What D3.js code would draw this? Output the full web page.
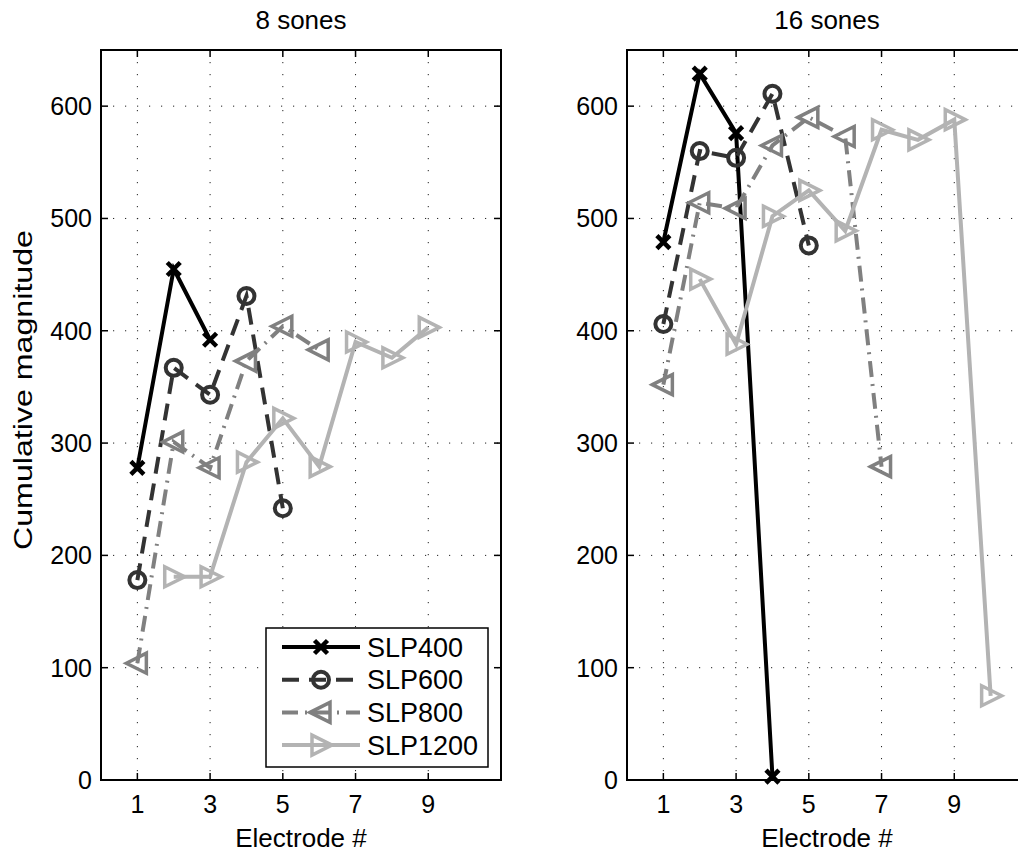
<!DOCTYPE html>
<html>
<head>
<meta charset="utf-8">
<script src="https://cdn.jsdelivr.net/npm/d3@7"></script>
<style>
    body { margin: 0; background: #fff; }
    text { font-family: "Liberation Sans", Arial, Helvetica, sans-serif; fill: #000; }
</style>
</head>
<body>
<div id="chart"></div>
<script>
// electrode numbers, one value per electrode (null = not measured)
var electrodes = [1, 2, 3, 4, 5, 6, 7, 8, 9, 10];
var seriesNames = ['SLP400', 'SLP600', 'SLP800', 'SLP1200'];
var panelTitles = ['8 sones', '16 sones'];
var xTicks = [1, 3, 5, 7, 9];
var yTicks = [0, 100, 200, 300, 400, 500, 600];

// 8 sones
var slp400_8  = [278, 455, 392, null, null, null, null, null, null, null];
var slp600_8  = [178, 367, 343, 431, 242, null, null, null, null, null];
var slp800_8  = [104, 301, 278, 373, 404, 383, null, null, null, null];
var slp1200_8 = [null, 181, 181, 283, 322, 279, 390, 376, 403, null];

// 16 sones
var slp400_16  = [479, 629, 576, 3, null, null, null, null, null, null];
var slp600_16  = [406, 560, 554, 611, 476, null, null, null, null, null];
var slp800_16  = [352, 514, 509, 565, 590, 573, 279, null, null, null];
var slp1200_16 = [null, 446, 388, 502, 525, 489, 579, 570, 588, 75];

var panelData = [
    [slp400_8, slp600_8, slp800_8, slp1200_8],
    [slp400_16, slp600_16, slp800_16, slp1200_16]
];

(function() {
    var width = 1018,
        height = 852,
        plot_w = 400,
        plot_h = 730,
        top = 50,
        lefts = [101, 627],
        tick_len = 7,
        font_size = 25;

    // line looks per series
    var colors = ['#000000', '#333333', '#808080', '#b3b3b3'],
        dashes = [null, '17,10', '16,7,2,7', null],
        markers = ['x', 'o', '<', '>'];

    var svg = d3.select('#chart').append('svg')
        .attr('width', width)
        .attr('height', height);

    var x = d3.scaleLinear().domain([0, 11]).range([0, plot_w]);
    var y = d3.scaleLinear().domain([0, 650]).range([plot_h, 0]);

    function drawMarker(sel, type, color) {
        if (type === 'x') {
            sel.append('path')
                .attr('d', 'M-6.5,-6.5L6.5,6.5M-6.5,6.5L6.5,-6.5')
                .attr('stroke', color)
                .attr('stroke-width', 4.5)
                .attr('fill', 'none');
        } else if (type === 'o') {
            sel.append('circle')
                .attr('r', 8)
                .attr('stroke', color)
                .attr('stroke-width', 4)
                .attr('fill', 'none');
        } else {
            var dir = type === '<' ? 1 : -1;
            sel.append('path')
                .attr('d', 'M' + (-11 * dir) + ',0L' + (9 * dir) + ',-10L' + (9 * dir) + ',10Z')
                .attr('stroke', color)
                .attr('stroke-width', 3.5)
                .attr('stroke-linejoin', 'miter')
                .attr('fill', 'none');
        }
    }

    panelData.forEach(function(panel, p) {
        var g = svg.append('g')
            .attr('transform', 'translate(' + lefts[p] + ',' + top + ')');

        // grid
        g.selectAll('.hgrid').data(yTicks.slice(1)).enter().append('line')
            .attr('x1', 0).attr('x2', plot_w)
            .attr('y1', function(d) { return y(d); })
            .attr('y2', function(d) { return y(d); })
            .attr('stroke', '#222')
            .attr('stroke-width', 1)
            .attr('stroke-dasharray', '1.2,10.8');
        g.selectAll('.vgrid').data(xTicks).enter().append('line')
            .attr('y1', 0).attr('y2', plot_h)
            .attr('x1', function(d) { return x(d); })
            .attr('x2', function(d) { return x(d); })
            .attr('stroke', '#222')
            .attr('stroke-width', 1)
            .attr('stroke-dasharray', '1.2,10.8');

        // ticks, inside on all four sides
        xTicks.forEach(function(t) {
            g.append('line').attr('x1', x(t)).attr('x2', x(t))
                .attr('y1', plot_h).attr('y2', plot_h - tick_len)
                .attr('stroke', '#000').attr('stroke-width', 1.5);
            g.append('line').attr('x1', x(t)).attr('x2', x(t))
                .attr('y1', 0).attr('y2', tick_len)
                .attr('stroke', '#000').attr('stroke-width', 1.5);
            g.append('text')
                .attr('x', x(t))
                .attr('y', plot_h + 33)
                .attr('text-anchor', 'middle')
                .style('font-size', font_size + 'px')
                .text(t);
        });
        yTicks.forEach(function(t) {
            g.append('line').attr('x1', 0).attr('x2', tick_len)
                .attr('y1', y(t)).attr('y2', y(t))
                .attr('stroke', '#000').attr('stroke-width', 1.5);
            g.append('line').attr('x1', plot_w).attr('x2', plot_w - tick_len)
                .attr('y1', y(t)).attr('y2', y(t))
                .attr('stroke', '#000').attr('stroke-width', 1.5);
            g.append('text')
                .attr('x', -9)
                .attr('y', y(t))
                .attr('dy', '0.36em')
                .attr('text-anchor', 'end')
                .style('font-size', font_size + 'px')
                .text(t);
        });

        // box
        g.append('rect')
            .attr('x', 0).attr('y', 0)
            .attr('width', plot_w).attr('height', plot_h)
            .attr('fill', 'none')
            .attr('stroke', '#000')
            .attr('stroke-width', 2);

        // title & x label
        g.append('text')
            .attr('x', plot_w / 2)
            .attr('y', -21)
            .attr('text-anchor', 'middle')
            .style('font-size', '26px')
            .text(panelTitles[p]);
        g.append('text')
            .attr('x', plot_w / 2)
            .attr('y', plot_h + 67)
            .attr('text-anchor', 'middle')
            .style('font-size', '26px')
            .text('Electrode #');

        // series
        panel.forEach(function(vals, s) {
            var pts = electrodes.map(function(e, i) { return [e, vals[i]]; })
                .filter(function(d) { return d[1] !== null; });
            var line = d3.line()
                .x(function(d) { return x(d[0]); })
                .y(function(d) { return y(d[1]); });
            g.append('path')
                .attr('d', line(pts))
                .attr('fill', 'none')
                .attr('stroke', colors[s])
                .attr('stroke-width', 4)
                .attr('stroke-dasharray', dashes[s]);
            pts.forEach(function(d) {
                var m = g.append('g')
                    .attr('transform', 'translate(' + x(d[0]) + ',' + y(d[1]) + ')');
                drawMarker(m, markers[s], colors[s]);
            });
        });
    });

    // y label
    svg.append('text')
        .attr('transform', 'translate(32,390) rotate(-90)')
        .attr('text-anchor', 'middle')
        .attr('textLength', 320)
        .attr('lengthAdjust', 'spacingAndGlyphs')
        .style('font-size', font_size + 'px')
        .text('Cumulative magnitude');

    // legend
    var lg = svg.append('g').attr('transform', 'translate(266,628)');
    lg.append('rect')
        .attr('width', 222).attr('height', 139)
        .attr('fill', '#fff')
        .attr('stroke', '#000')
        .attr('stroke-width', 1.5);
    seriesNames.forEach(function(name, s) {
        var ly = 19 + s * 32.7;
        lg.append('line')
            .attr('x1', 16).attr('x2', 94)
            .attr('y1', ly).attr('y2', ly)
            .attr('stroke', colors[s])
            .attr('stroke-width', 4)
            .attr('stroke-dasharray', dashes[s]);
        drawMarker(lg.append('g').attr('transform', 'translate(55,' + ly + ')'), markers[s], colors[s]);
        lg.append('text')
            .attr('x', 101)
            .attr('y', ly)
            .attr('dy', '0.36em')
            .style('font-size', '27px')
            .text(name);
    });
})();
</script>
</body>
</html>
